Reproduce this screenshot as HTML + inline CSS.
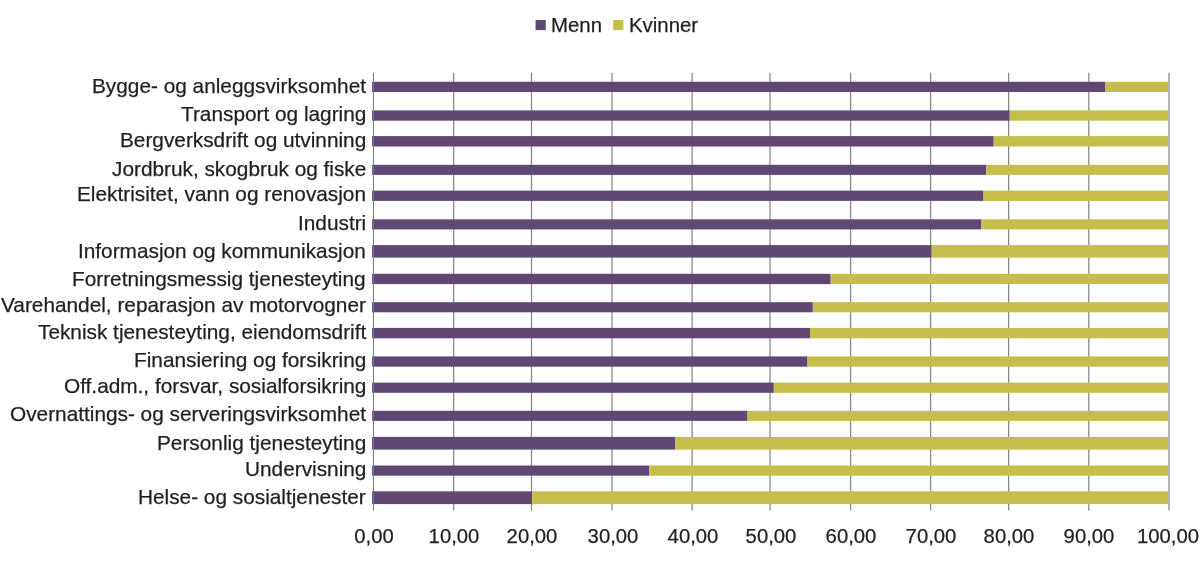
<!DOCTYPE html>
<html><head><meta charset="utf-8"><title>Chart</title>
<style>
html,body{margin:0;padding:0;background:#fff;}
body{width:1200px;height:565px;position:relative;overflow:hidden;font-family:"Liberation Sans",sans-serif;color:#231f20;font-size:20.8px;}
svg{position:absolute;left:0;top:0;}
.l,.t,.lg{will-change:transform;-webkit-text-stroke:0.25px #231f20;}
.l{position:absolute;right:834px;white-space:nowrap;line-height:24px;height:24px;text-align:right;}
.t{position:absolute;top:524px;width:100px;text-align:center;line-height:24px;white-space:nowrap;font-size:20.3px;}
.lg{position:absolute;top:13px;line-height:24px;white-space:nowrap;font-size:20.4px;}
</style></head><body>
<svg width="1200" height="565" viewBox="0 0 1200 565">

<line x1="453.7" x2="453.7" y1="72.8" y2="510.6" stroke="#858585" stroke-width="1.25"/>
<line x1="531.5" x2="531.5" y1="72.8" y2="510.6" stroke="#858585" stroke-width="1.25"/>
<line x1="612" x2="612" y1="72.8" y2="510.6" stroke="#858585" stroke-width="1.25"/>
<line x1="692.1" x2="692.1" y1="72.8" y2="510.6" stroke="#858585" stroke-width="1.25"/>
<line x1="770" x2="770" y1="72.8" y2="510.6" stroke="#858585" stroke-width="1.25"/>
<line x1="850.6" x2="850.6" y1="72.8" y2="510.6" stroke="#858585" stroke-width="1.25"/>
<line x1="930.6" x2="930.6" y1="72.8" y2="510.6" stroke="#858585" stroke-width="1.25"/>
<line x1="1008.6" x2="1008.6" y1="72.8" y2="510.6" stroke="#858585" stroke-width="1.25"/>
<line x1="1088.8" x2="1088.8" y1="72.8" y2="510.6" stroke="#858585" stroke-width="1.25"/>
<line x1="1169" x2="1169" y1="72.8" y2="510.6" stroke="#858585" stroke-width="1.25"/>
<rect x="372.1" y="81.8" width="733.3" height="10.2" fill="#604875"/><rect x="1105.4" y="81.8" width="62.6" height="10.2" fill="#c6be4b"/>
<rect x="372.1" y="110.4" width="637.6" height="10.3" fill="#604875"/><rect x="1009.7" y="110.4" width="158.3" height="10.3" fill="#c6be4b"/>
<rect x="372.1" y="136.1" width="621.6" height="10.4" fill="#604875"/><rect x="993.7" y="136.1" width="174.3" height="10.4" fill="#c6be4b"/>
<rect x="372.1" y="164.8" width="614.2" height="10.1" fill="#604875"/><rect x="986.3" y="164.8" width="181.7" height="10.1" fill="#c6be4b"/>
<rect x="372.1" y="190.6" width="611.4" height="10.3" fill="#604875"/><rect x="983.5" y="190.6" width="184.5" height="10.3" fill="#c6be4b"/>
<rect x="372.1" y="219.3" width="608.9" height="10.1" fill="#604875"/><rect x="981" y="219.3" width="187.0" height="10.1" fill="#c6be4b"/>
<rect x="372.1" y="245.1" width="559.6" height="12.5" fill="#604875"/><rect x="931.7" y="245.1" width="236.3" height="12.5" fill="#c6be4b"/>
<rect x="372.1" y="273.8" width="458.6" height="10.3" fill="#604875"/><rect x="830.7" y="273.8" width="337.3" height="10.3" fill="#c6be4b"/>
<rect x="372.1" y="302.2" width="440.7" height="10.1" fill="#604875"/><rect x="812.8" y="302.2" width="355.2" height="10.1" fill="#c6be4b"/>
<rect x="372.1" y="327.9" width="437.9" height="10.4" fill="#604875"/><rect x="810" y="327.9" width="358.0" height="10.4" fill="#c6be4b"/>
<rect x="372.1" y="356.4" width="435.4" height="10.3" fill="#604875"/><rect x="807.5" y="356.4" width="360.5" height="10.3" fill="#c6be4b"/>
<rect x="372.1" y="382.6" width="401.7" height="10.2" fill="#604875"/><rect x="773.8" y="382.6" width="394.2" height="10.2" fill="#c6be4b"/>
<rect x="372.1" y="410.8" width="375.5" height="10.1" fill="#604875"/><rect x="747.6" y="410.8" width="420.4" height="10.1" fill="#c6be4b"/>
<rect x="372.1" y="436.9" width="303.3" height="12.7" fill="#604875"/><rect x="675.4" y="436.9" width="492.6" height="12.7" fill="#c6be4b"/>
<rect x="372.1" y="465.5" width="277.2" height="10.2" fill="#604875"/><rect x="649.3" y="465.5" width="518.7" height="10.2" fill="#c6be4b"/>
<rect x="372.1" y="491.3" width="160.1" height="12.8" fill="#604875"/><rect x="532.2" y="491.3" width="635.8" height="12.8" fill="#c6be4b"/>
<line x1="373.5" x2="373.5" y1="72.8" y2="510.6" stroke="#7a7a7a" stroke-width="1"/>
<rect x="535.6" y="20" width="10.2" height="10.1" fill="#604875"/><rect x="613.2" y="20" width="10.2" height="10.1" fill="#c6be4b"/>
</svg>
<div class="l" style="top:74px">Bygge- og anleggsvirksomhet</div>
<div class="l" style="top:102px">Transport og lagring</div>
<div class="l" style="top:128px">Bergverksdrift og utvinning</div>
<div class="l" style="top:157px">Jordbruk, skogbruk og fiske</div>
<div class="l" style="top:182px">Elektrisitet, vann og renovasjon</div>
<div class="l" style="top:211px">Industri</div>
<div class="l" style="top:239px">Informasjon og kommunikasjon</div>
<div class="l" style="top:267px">Forretningsmessig tjenesteyting</div>
<div class="l" style="top:293px">Varehandel, reparasjon av motorvogner</div>
<div class="l" style="top:320px">Teknisk tjenesteyting, eiendomsdrift</div>
<div class="l" style="top:348px">Finansiering og forsikring</div>
<div class="l" style="top:374px">Off.adm., forsvar, sosialforsikring</div>
<div class="l" style="top:402px">Overnattings- og serveringsvirksomhet</div>
<div class="l" style="top:431px">Personlig tjenesteyting</div>
<div class="l" style="top:457px">Undervisning</div>
<div class="l" style="top:485px">Helse- og sosialtjenester</div>
<div class="t" style="left:324.4px">0,00</div>
<div class="t" style="left:404.3px">10,00</div>
<div class="t" style="left:482.3px">20,00</div>
<div class="t" style="left:562.6px">30,00</div>
<div class="t" style="left:642.6px">40,00</div>
<div class="t" style="left:720.6px">50,00</div>
<div class="t" style="left:801.1px">60,00</div>
<div class="t" style="left:881.1px">70,00</div>
<div class="t" style="left:959.1px">80,00</div>
<div class="t" style="left:1039.3px">90,00</div>
<div class="t" style="left:1118.3px">100,00</div>
<div class="lg" style="left:551px">Menn</div>
<div class="lg" style="left:629px">Kvinner</div>
</body></html>
